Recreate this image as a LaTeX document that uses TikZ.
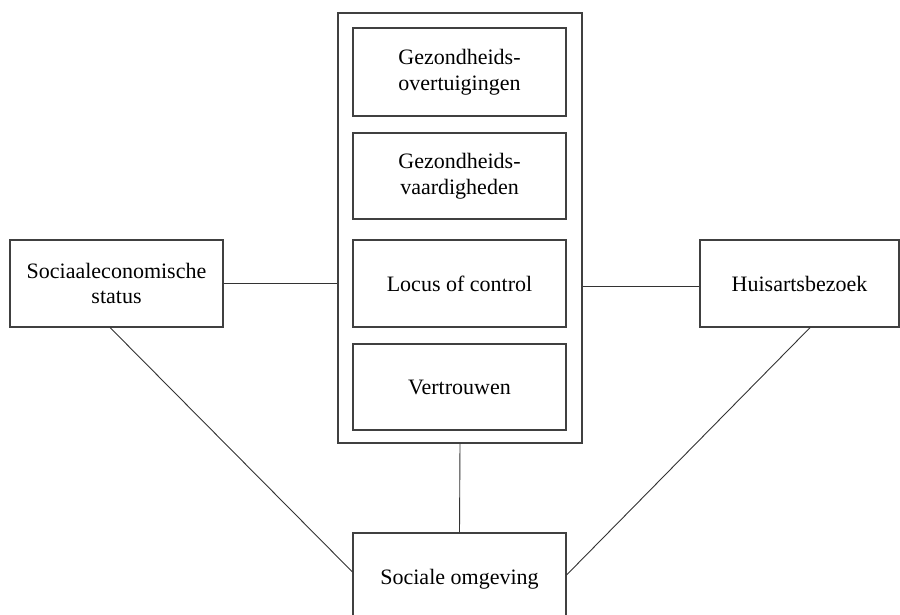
\documentclass[tikz,border=0pt]{standalone}
\usepackage{fontspec}
\setmainfont{Liberation Serif}
\usetikzlibrary{calc}
\begin{document}
\begin{tikzpicture}[x=1pt,y=-1pt,
  box/.style={draw=black!75, line width=1.1pt, align=center, inner sep=0pt,
    font=\fontsize{22}{25.5}\selectfont},
  conn/.style={draw=black!80, line width=0.9pt}]
\useasboundingbox (0,0) rectangle (900,615);
\clip (0,0) rectangle (900,615);
\node[box, minimum width=244, minimum height=430] (cont) at (460,228) {};
\node[box, minimum width=213, minimum height=88] (b1) at (459.5,72) {Gezondheids-\\overtuigingen};
\node[box, minimum width=213, minimum height=86] (b2) at (459.5,176) {Gezondheids-\\vaardigheden};
\node[box, minimum width=213, minimum height=87] (b3) at (459.5,283.5) {Locus of control};
\node[box, minimum width=213, minimum height=86] (b4) at (459.5,387) {Vertrouwen};
\node[box, minimum width=213, minimum height=87] (ses) at (116.5,283.5) {Sociaaleconomische\\status};
\node[box, minimum width=199, minimum height=87] (huis) at (799.5,283.5) {Huisartsbezoek};
\node[box, minimum width=213, minimum height=92] (soc) at (459.5,579) {Sociale omgeving};
\draw[conn] (ses.east) -- (ses.east -| cont.west);
\coordinate (huisin) at ($(huis.west)+(0,3)$);
\draw[conn] (cont.east |- huisin) -- (huisin);
\draw[conn] (cont.south) -- (soc.north);
\coordinate (sesout) at ($(ses.south west)!0.47!(ses.south east)$);
\coordinate (socin1) at ($(soc.west)+(0,-7)$);
\draw[conn] (sesout) -- (socin1);
\coordinate (huisout) at ($(huis.south west)!0.553!(huis.south east)$);
\coordinate (socin2) at ($(soc.east)+(0,-4)$);
\draw[conn] (huisout) -- (socin2);
\end{tikzpicture}
\end{document}
